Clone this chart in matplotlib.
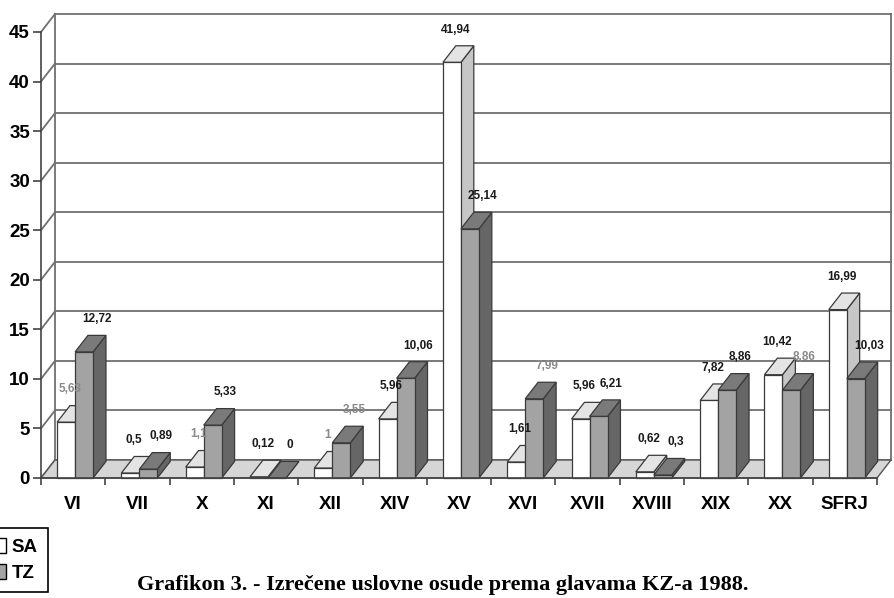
import matplotlib
matplotlib.use("Agg")
import matplotlib.pyplot as plt
from matplotlib.patches import Polygon, Rectangle, Patch

# ---- data ----
categories = ["VI", "VII", "X", "XI", "XII", "XIV", "XV", "XVI", "XVII",
              "XVIII", "XIX", "XX", "SFRJ"]
sa_values = [5.63, 0.5, 1.1, 0.12, 1.0, 5.96, 41.94, 1.61, 5.96, 0.62, 7.82, 10.42, 16.99]
tz_values = [12.72, 0.89, 5.33, 0, 3.55, 10.06, 25.14, 7.99, 6.21, 0.3, 8.86, 8.86, 10.03]
series_names = ["SA", "TZ"]
y_ticks = [0, 5, 10, 15, 20, 25, 30, 35, 40, 45]
caption = "Grafikon 3. - Izrečene uslovne osude prema glavama KZ-a 1988."

# ---- style ----
W, H = 895, 598
FONT = "Liberation Sans"
EDGE = "#3a3a3a"
GRID = "#707070"
face_colors = [
    {"front": "#ffffff", "top": "#e4e4e4", "side": "#c6c6c6"},
    {"front": "#a3a3a3", "top": "#7a7a7a", "side": "#666666"},
]
gray_labels = {(0, 0), (0, 2), (0, 4), (1, 4), (1, 7), (1, 11)}

fig = plt.figure(figsize=(W / 100, H / 100), dpi=100)
x0_px, y0_px, x1_px, y1_px = 41, 478, 877, 32
ax = fig.add_axes([x0_px / W, (H - y0_px) / H, (x1_px - x0_px) / W, (y0_px - y1_px) / H])
n = len(categories)
ax.set_xlim(0, n)
ax.set_ylim(0, 45)
px_x = (x1_px - x0_px) / n
px_y = (y0_px - y1_px) / 45
DX = 14 / px_x
DY = 18 / px_y

# walls and grid
for v in y_ticks:
    ax.plot([DX, n + DX], [v + DY, v + DY], color=GRID, lw=1.3, clip_on=False, zorder=1)
    ax.plot([0, DX], [v, v + DY], color=GRID, lw=1.3, clip_on=False, zorder=1)
ax.plot([DX, DX], [DY, 45 + DY], color=GRID, lw=1.3, clip_on=False, zorder=1)
ax.plot([n + DX, n + DX], [DY, 45 + DY], color=GRID, lw=1.3, clip_on=False, zorder=1)
ax.add_patch(Polygon([(0, 0), (n, 0), (n + DX, DY), (DX, DY)], closed=True,
                     facecolor="#d6d6d6", edgecolor="#555555", lw=1.0,
                     clip_on=False, zorder=2))

# bars
bar_w = 0.28
gap = 0.25
dep = 0.92
z = 3
for i in range(n):
    for s, vals in enumerate([sa_values, tz_values]):
        h = vals[i]
        x0 = i + gap + s * bar_w
        ddx, ddy = DX * dep, DY * dep
        c = face_colors[s]
        side = Polygon([(x0 + bar_w, 0), (x0 + bar_w + ddx, ddy),
                        (x0 + bar_w + ddx, h + ddy), (x0 + bar_w, h)], closed=True,
                       facecolor=c["side"], edgecolor=EDGE, lw=0.9, clip_on=False, zorder=z)
        top = Polygon([(x0, h), (x0 + bar_w, h), (x0 + bar_w + ddx, h + ddy),
                       (x0 + ddx, h + ddy)], closed=True,
                      facecolor=c["top"], edgecolor=EDGE, lw=0.9, clip_on=False, zorder=z)
        front = Rectangle((x0, 0), bar_w, h, facecolor=c["front"], edgecolor=EDGE,
                          lw=0.9, clip_on=False, zorder=z)
        ax.add_patch(side)
        ax.add_patch(top)
        ax.add_patch(front)
        z += 1

# value labels
for s, vals in enumerate([sa_values, tz_values]):
    for i, v in enumerate(vals):
        txt = f"{v:g}".replace(".", ",")
        xc = i + gap + s * bar_w + bar_w / 2 + (0.06 if s == 0 else 0.2)
        col = "#8a8a8a" if (s, i) in gray_labels else "#1a1a1a"
        ax.text(xc, v + 3.3, txt, ha="center", va="center", fontsize=8.5,
                fontweight="bold", family=FONT, color=col, clip_on=False, zorder=100)

# axes
for sp in ["top", "right"]:
    ax.spines[sp].set_visible(False)
ax.spines["left"].set_color("#444444")
ax.spines["bottom"].set_color("#444444")
ax.spines["left"].set_linewidth(1.2)
ax.spines["bottom"].set_linewidth(1.2)
ax.spines["left"].set_zorder(50)
ax.spines["bottom"].set_zorder(50)
ax.set_yticks(y_ticks)
ax.set_yticklabels([str(t) for t in y_ticks], fontsize=13.5, fontweight="bold", family=FONT)
ax.tick_params(axis="y", length=6, width=1.2, color="#444444", pad=2)
ax.set_xticks([i + 0.5 for i in range(n)])
ax.set_xticklabels(categories, fontsize=13.5, fontweight="bold", family=FONT)
ax.tick_params(axis="x", length=0, pad=13)
ax.set_xticks(range(n + 1), minor=True)
ax.tick_params(axis="x", which="minor", length=5, width=1.2, color="#444444")
ax.patch.set_alpha(0)

# legend (partly outside the page, as in the reference)
handles = [Patch(facecolor=face_colors[0]["front"], edgecolor="black"),
           Patch(facecolor=face_colors[1]["front"], edgecolor="black")]
leg = fig.legend(handles, series_names, loc="upper right",
                 bbox_to_anchor=(48 / W, 1 - 528 / H), frameon=True, fancybox=False,
                 edgecolor="black", framealpha=1, handlelength=0.8, handleheight=0.8,
                 handletextpad=0.3, borderpad=0.55, labelspacing=0.45, borderaxespad=0,
                 prop={"family": FONT, "weight": "bold", "size": 13.5})
leg.get_frame().set_linewidth(1.2)

fig.text(443 / W, 1 - 585 / H, caption, ha="center", va="center",
         family="Liberation Serif", fontweight="bold", fontsize=16)

fig.savefig("out.png", dpi=100, facecolor="white")
